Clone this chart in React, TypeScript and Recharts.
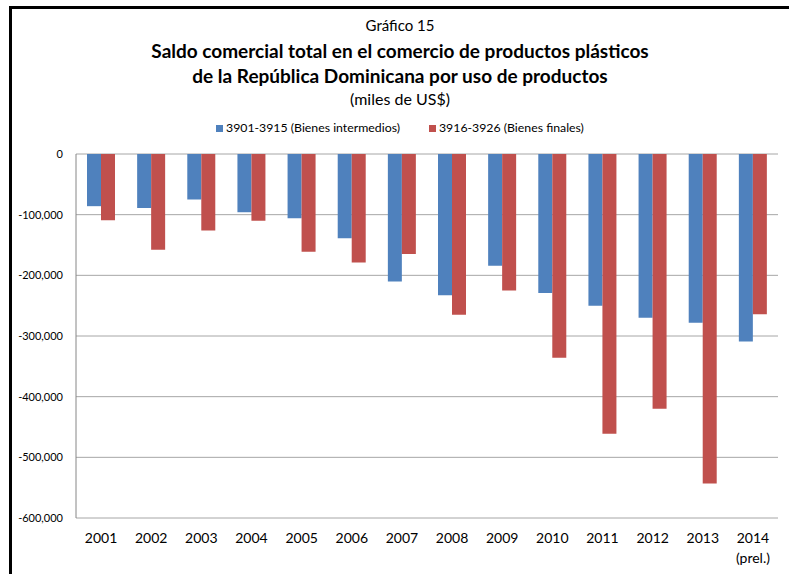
import React from "react";
import { BarChart, Bar, XAxis, YAxis, CartesianGrid } from "recharts";

// datos (miles de US$)
const years = ["2001", "2002", "2003", "2004", "2005", "2006", "2007", "2008", "2009", "2010", "2011", "2012", "2013", "2014"];
const intermedios = [-86000, -89000, -75000, -96000, -106000, -139000, -210000, -233000, -184000, -229000, -250000, -270000, -278000, -309000];
const finales = [-109000, -158000, -126000, -110000, -161000, -179000, -165000, -265000, -225000, -336000, -461000, -420000, -543000, -264000];
const yTicks = [0, -100000, -200000, -300000, -400000, -500000, -600000];

const BLUE = "#4f81bd";
const RED = "#c0504d";
const FONT = "Lato, 'Open Sans', sans-serif";

const data = years.map((y, i) => ({
    year: y,
    intermedios: intermedios[i],
    finales: finales[i],
}));

const YearTick = (props: any) => {
    const { x, y, payload } = props;
    return (
        <g>
            <text x={x} y={y + 17} textAnchor="middle" fontSize={14} fill="#000" fontFamily={FONT}>
                {payload.value}
            </text>
            {payload.value === "2014" && (
                <text x={x} y={y + 37} textAnchor="middle" fontSize={14} fill="#000" fontFamily={FONT}>
                    (prel.)
                </text>
            )}
        </g>
    );
};

export default function App() {
    return (
        <div style={{ position: "absolute", left: 0, top: 0, width: 789, height: 574, background: "#fff", fontFamily: FONT, overflow: "hidden" }}>
            {/* marco */}
            <div style={{ position: "absolute", left: 9, top: 6, width: 800, height: 600, borderLeft: "3px solid #000", borderTop: "3px solid #000" }} />

            <div style={{ position: "absolute", left: 0, width: 800, top: 16, textAlign: "center", fontSize: 15, lineHeight: "18px" }}>
                Gráfico 15
            </div>
            <div style={{ position: "absolute", left: 0, width: 800, top: 38, textAlign: "center", fontSize: 19, fontWeight: 700, lineHeight: "25px" }}>
                Saldo comercial total en el comercio de productos plásticos
                <br />
                de la República Dominicana por uso de productos
            </div>
            <div style={{ position: "absolute", left: 0, width: 800, top: 89, textAlign: "center", fontSize: 16, lineHeight: "20px" }}>
                (miles de US$)
            </div>

            {/* leyenda */}
            <div style={{ position: "absolute", left: 216, top: 121, fontSize: 12.3, lineHeight: "14px", display: "flex", alignItems: "center", whiteSpace: "nowrap" }}>
                <span style={{ width: 7, height: 7, background: BLUE, display: "inline-block", marginRight: 3 }} />
                <span>3901-3915 (Bienes intermedios)</span>
                <span style={{ width: 7, height: 7, background: RED, display: "inline-block", marginLeft: 29, marginRight: 3 }} />
                <span>3916-3926 (Bienes finales)</span>
            </div>

            <div style={{ position: "absolute", left: 0, top: 0 }}>
                <BarChart
                    width={789}
                    height={574}
                    data={data}
                    margin={{ top: 154, right: 11, bottom: 16, left: 0 }}
                    barSize={14}
                    barGap={0}
                >
                    <CartesianGrid vertical={false} stroke="#a6a6a6" horizontalValues={yTicks} />
                    <XAxis
                        dataKey="year"
                        axisLine={false}
                        tickLine={false}
                        height={40}
                        interval={0}
                        tick={<YearTick />}
                    />
                    <YAxis
                        domain={[-600000, 0]}
                        ticks={yTicks}
                        width={76}
                        axisLine={{ stroke: "#868686" }}
                        tickLine={false}
                        tickSize={0}
                        tickMargin={13}
                        tick={{ fill: "#000", fontSize: 11, fontFamily: FONT }}
                        tickFormatter={(v: number) => v.toLocaleString("en-US")}
                    />
                    <Bar dataKey="intermedios" fill={BLUE} isAnimationActive={false} />
                    <Bar dataKey="finales" fill={RED} isAnimationActive={false} />
                </BarChart>
            </div>
        </div>
    );
}
